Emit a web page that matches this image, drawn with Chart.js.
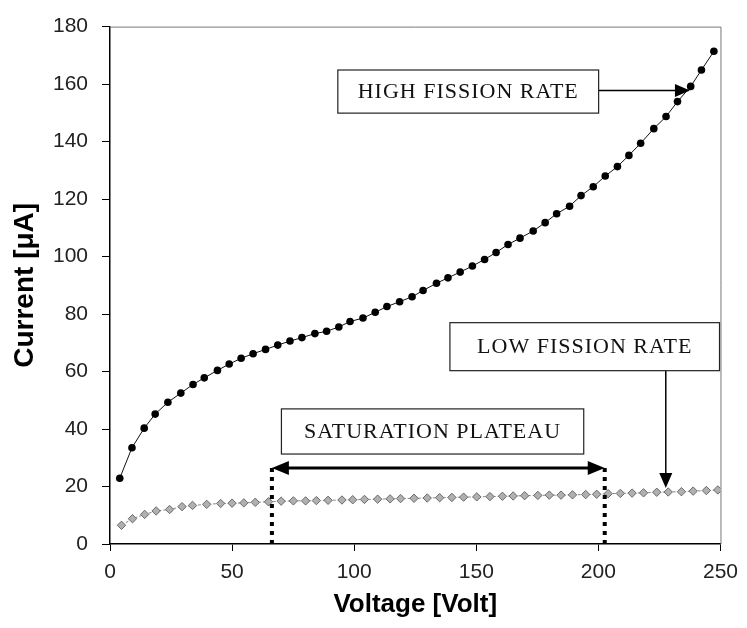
<!DOCTYPE html>
<html>
<head>
<meta charset="utf-8">
<title>Fission chamber current vs voltage</title>
<script src="https://cdn.jsdelivr.net/npm/chart.js@4.4.1/dist/chart.umd.min.js"></script>
<style>
  html, body { margin: 0; padding: 0; background: #fff; }
  canvas { display: block; }
</style>
</head>
<body>
<canvas id="ivChart" width="747" height="628"></canvas>
<script>
// values
const voltageHigh = [4, 9, 14, 18.5, 23.7, 29, 34, 38.6, 44, 48.8,
  53.7, 58.6, 63.7, 68.7, 73.7, 78.6, 83.9, 88.7, 93.7, 98.3,
  103.6, 108.6, 113.4, 118.6, 123.7, 128.2, 133.7, 138.4, 143.4, 148.4,
  153.4, 158.1, 163, 167.9, 173.3, 178.2, 182.9, 188.2, 192.9, 197.9,
  202.8, 207.8, 212.5, 217.3, 222.7, 227.7, 232.4, 237.8, 242.2, 247.3];
const currentHigh = [22.9, 33.5, 40.3, 45.2, 49.3, 52.5, 55.5, 57.8, 60.4, 62.6,
  64.6, 66.2, 67.7, 69.2, 70.6, 71.8, 73.2, 74.0, 75.5, 77.4,
  78.6, 80.6, 82.6, 84.3, 86.0, 88.2, 90.7, 92.6, 94.6, 96.7,
  99.0, 101.4, 104.2, 106.4, 108.9, 111.8, 114.9, 117.5, 121.2, 124.3,
  128.0, 131.3, 135.2, 139.4, 144.5, 148.7, 153.9, 159.2, 164.9, 171.4];

const voltageLow = [4.7, 9.2, 14.2, 18.9, 24.4, 29.5, 33.8, 39.6, 45.3, 50,
  54.8, 59.5, 64.9, 70.1, 75.1, 80.1, 84.5, 89.3, 95, 99.4,
  104.2, 109.6, 114.7, 119, 124.5, 129.9, 135, 140, 144.8, 150.2,
  155.6, 160.7, 165.1, 169.8, 175.2, 179.9, 184.7, 189.4, 194.8, 199.3,
  204, 209, 213.8, 218.5, 223.9, 228.6, 234, 238.8, 244.2, 248.9];
const currentLow = [6.5, 8.8, 10.3, 11.5, 12.0, 13.0, 13.4, 13.8, 14.1, 14.2,
  14.3, 14.5, 14.7, 14.9, 15.0, 15.0, 15.1, 15.2, 15.3, 15.4,
  15.5, 15.6, 15.7, 15.8, 15.9, 16.0, 16.1, 16.2, 16.3, 16.4,
  16.5, 16.6, 16.7, 16.8, 16.9, 17.0, 17.0, 17.1, 17.2, 17.3,
  17.5, 17.6, 17.7, 17.8, 18.0, 18.1, 18.2, 18.4, 18.6, 18.8];

const xTickValues = [0, 50, 100, 150, 200, 250];
const yTickValues = [0, 20, 40, 60, 80, 100, 120, 140, 160, 180];

const plateauStart = 66.3;
const plateauEnd = 202.6;

function toPoints(xs, ys) {
  return xs.map((x, i) => ({ x: x, y: ys[i] }));
}

function arrowHead(ctx, x, y, angle, len, half) {
  ctx.save();
  ctx.translate(x, y);
  ctx.rotate(angle);
  ctx.beginPath();
  ctx.moveTo(0, 0);
  ctx.lineTo(-len, -half);
  ctx.lineTo(-len, half);
  ctx.closePath();
  ctx.fill();
  ctx.restore();
}

function labelBox(ctx, xs, ys, text, x0, x1, y0, y1) {
  let left = xs.getPixelForValue(x0), right = xs.getPixelForValue(x1);
  let top = ys.getPixelForValue(y1), bottom = ys.getPixelForValue(y0);
  ctx.fillStyle = "#fff";
  ctx.fillRect(left, top, right - left, bottom - top);
  ctx.strokeStyle = "#222";
  ctx.lineWidth = 1.2;
  ctx.strokeRect(left, top, right - left, bottom - top);
  ctx.fillStyle = "#111";
  ctx.font = "22px 'Liberation Serif', 'Times New Roman', serif";
  ctx.letterSpacing = "1px";
  ctx.textAlign = "center";
  ctx.textBaseline = "middle";
  ctx.fillText(text, (left + right) / 2, (top + bottom) / 2 + 1);
  ctx.letterSpacing = "0px";
}

const notesPlugin = {
  id: "notes",
  beforeDatasetsDraw(chart) {
    let ctx = chart.ctx;
    let a = chart.chartArea;
    // top and right frame of the plot
    ctx.save();
    ctx.strokeStyle = "#777";
    ctx.lineWidth = 1;
    ctx.beginPath();
    ctx.moveTo(a.left, a.top + 0.5);
    ctx.lineTo(a.right + 0.5, a.top + 0.5);
    ctx.lineTo(a.right + 0.5, a.bottom);
    ctx.stroke();
    ctx.restore();
  },
  afterDatasetsDraw(chart) {
    let ctx = chart.ctx;
    let xs = chart.scales.x;
    let ys = chart.scales.y;
    ctx.save();

    // saturation plateau: dotted limits and double arrow
    let arrowY = ys.getPixelForValue(26.4);
    let zeroY = ys.getPixelForValue(0);
    let px1 = xs.getPixelForValue(plateauStart);
    let px2 = xs.getPixelForValue(plateauEnd);
    ctx.strokeStyle = "#000";
    ctx.lineWidth = 4;
    ctx.setLineDash([4, 5]);
    ctx.beginPath();
    ctx.moveTo(px1, arrowY);
    ctx.lineTo(px1, zeroY);
    ctx.moveTo(px2, arrowY);
    ctx.lineTo(px2, zeroY);
    ctx.stroke();
    ctx.setLineDash([]);
    ctx.lineWidth = 3;
    ctx.beginPath();
    ctx.moveTo(px1 + 10, arrowY);
    ctx.lineTo(px2 - 10, arrowY);
    ctx.stroke();
    ctx.fillStyle = "#000";
    arrowHead(ctx, px1, arrowY, Math.PI, 17, 7);
    arrowHead(ctx, px2, arrowY, 0, 17, 7);

    // high fission rate arrow
    let hy = ys.getPixelForValue(157.8);
    ctx.lineWidth = 1.5;
    ctx.beginPath();
    ctx.moveTo(xs.getPixelForValue(200), hy);
    ctx.lineTo(xs.getPixelForValue(237.5) - 10, hy);
    ctx.stroke();
    arrowHead(ctx, xs.getPixelForValue(237.5), hy, 0, 15, 6.5);

    // low fission rate arrow
    let lx = xs.getPixelForValue(227.6);
    ctx.beginPath();
    ctx.moveTo(lx, ys.getPixelForValue(60.3));
    ctx.lineTo(lx, ys.getPixelForValue(19.5) - 10);
    ctx.stroke();
    arrowHead(ctx, lx, ys.getPixelForValue(19.5), Math.PI / 2, 15, 6.5);

    labelBox(ctx, xs, ys, "HIGH FISSION RATE", 93.3, 200.1, 149.9, 164.9);
    labelBox(ctx, xs, ys, "LOW FISSION RATE", 139.2, 249.6, 60.3, 77);
    labelBox(ctx, xs, ys, "SATURATION PLATEAU", 70.2, 194, 31.3, 47);
    ctx.restore();
  }
};

const tickFont = { family: "'Liberation Sans', Arial, sans-serif", size: 21 };
const titleFont = { family: "'Liberation Sans', Arial, sans-serif", size: 26, weight: "bold" };

new Chart(document.getElementById("ivChart"), {
  type: "scatter",
  data: {
    datasets: [
      {
        label: "High fission rate",
        data: toPoints(voltageHigh, currentHigh),
        showLine: true,
        borderColor: "#111",
        borderWidth: 1,
        backgroundColor: "#000",
        pointStyle: "circle",
        pointRadius: 3.8,
        pointBorderWidth: 0,
      },
      {
        label: "Low fission rate",
        data: toPoints(voltageLow, currentLow),
        showLine: true,
        borderColor: "#8a8a8a",
        borderWidth: 1,
        borderDash: [3, 2],
        backgroundColor: "#b0b0b0",
        pointStyle: "rectRot",
        pointRadius: 4.2,
        pointBorderColor: "#6a6a6a",
        pointBorderWidth: 1,
      },
    ],
  },
  options: {
    responsive: false,
    animation: false,
    devicePixelRatio: 1,
    layout: { padding: { left: 0, top: 16, right: 20, bottom: 0 } },
    plugins: {
      legend: { display: false },
      tooltip: { enabled: false },
    },
    scales: {
      x: {
        type: "linear",
        min: 0,
        max: 250,
        afterBuildTicks: (scale) => { scale.ticks = xTickValues.map((v) => ({ value: v })); },
        afterFit: (scale) => { scale.height = 84; },
        grid: { drawOnChartArea: false, drawTicks: true, tickLength: 7, color: "#000" },
        border: { display: true, color: "#000", width: 1.5 },
        ticks: { color: "#222", font: tickFont, padding: 9, maxRotation: 0 },
        title: { display: true, text: "Voltage [Volt]", color: "#000", font: titleFont, padding: { top: 0, bottom: 8 } },
      },
      y: {
        type: "linear",
        min: 0,
        max: 180,
        afterBuildTicks: (scale) => { scale.ticks = yTickValues.map((v) => ({ value: v })); },
        afterFit: (scale) => { scale.width = 110; },
        grid: { drawOnChartArea: false, drawTicks: true, tickLength: 8, color: "#000" },
        border: { display: true, color: "#000", width: 1.5 },
        ticks: { color: "#222", font: tickFont, padding: 14 },
        title: { display: true, text: "Current [μA]", color: "#000", font: { family: titleFont.family, size: 28, weight: "bold" }, padding: { top: 8, bottom: 0 } },
      },
    },
  },
  plugins: [notesPlugin],
});
</script>
</body>
</html>
